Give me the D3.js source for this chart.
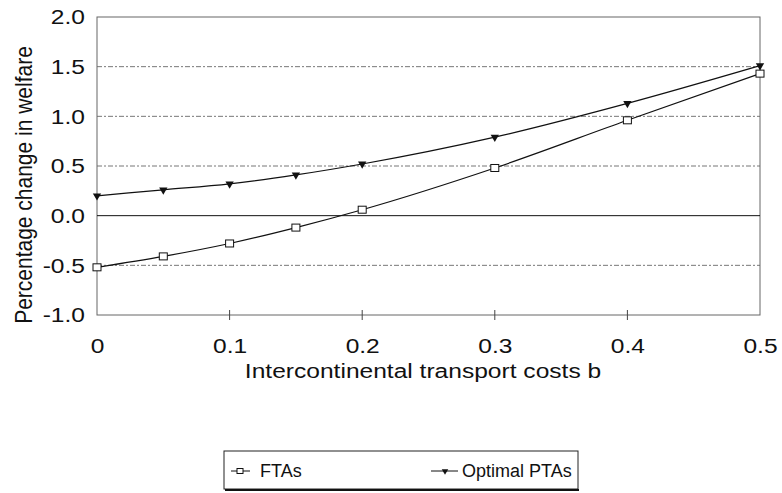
<!DOCTYPE html>
<html>
<head>
<meta charset="utf-8">
<script src="https://cdn.jsdelivr.net/npm/d3@7"></script>
<style>
  body { margin: 0; background: #fff; }
  text { font-family: "Liberation Sans", Arial, sans-serif; fill: #111; }
</style>
</head>
<body>
<script>
// Chart data
const costs = [0, 0.05, 0.1, 0.15, 0.2, 0.3, 0.4, 0.5];
const ftas = [-0.52, -0.41, -0.28, -0.12, 0.06, 0.48, 0.96, 1.43];
const optimalPtas = [0.20, 0.26, 0.32, 0.41, 0.52, 0.79, 1.13, 1.51];
const xTicks = [0, 0.1, 0.2, 0.3, 0.4, 0.5];
const yTicks = [-1.0, -0.5, 0.0, 0.5, 1.0, 1.5, 2.0];

const WIDTH = 782;
const HEIGHT = 493;
const PLOT = { left: 97, right: 760, top: 17, bottom: 315 };
const STRETCH = 1.17; // the scan is a bit wider than tall

const svg = d3.select("body").append("svg")
  .attr("width", WIDTH)
  .attr("height", HEIGHT);

const x = d3.scaleLinear().domain([0, 0.5]).range([PLOT.left, PLOT.right]);
const y = d3.scaleLinear().domain([-1, 2]).range([PLOT.bottom, PLOT.top]);

// Dashed gridlines
svg.append("g")
  .selectAll("line")
  .data(yTicks.filter(d => d !== 0 && d !== 2 && d !== -1))
  .enter().append("line")
  .attr("x1", PLOT.left).attr("x2", PLOT.right)
  .attr("y1", d => y(d)).attr("y2", d => y(d))
  .attr("stroke", "#777")
  .attr("stroke-width", 1)
  .attr("stroke-dasharray", "5,2,2,2");

// Plot frame
svg.append("rect")
  .attr("x", PLOT.left).attr("y", PLOT.top)
  .attr("width", PLOT.right - PLOT.left)
  .attr("height", PLOT.bottom - PLOT.top)
  .attr("fill", "none")
  .attr("stroke", "#666")
  .attr("stroke-width", 1);

// Zero line
svg.append("line")
  .attr("x1", PLOT.left).attr("x2", PLOT.right)
  .attr("y1", y(0)).attr("y2", y(0))
  .attr("stroke", "#111")
  .attr("stroke-width", 1);

// Y axis labels (plain hyphen for negatives, as in the scan)
const yAxis = d3.axisLeft(y)
  .tickValues(yTicks)
  .tickFormat(d => d.toFixed(1))
  .tickSize(0)
  .tickPadding(0);
svg.append("g")
  .attr("transform", `translate(${PLOT.left - 12},0)`)
  .call(yAxis)
  .call(g => g.select(".domain").remove())
  .call(g => g.selectAll("text")
    .attr("x", 0)
    .attr("transform", `scale(${STRETCH},1)`)
    .style("font-size", "21px")
    .style("font-family", "Liberation Sans, Arial, sans-serif")
    .attr("fill", "#111"));

// X axis with small ticks crossing the bottom line
const xAxis = d3.axisBottom(x)
  .tickValues(xTicks)
  .tickFormat(d => d === 0 ? "0" : d.toFixed(1))
  .tickSize(0)
  .tickPadding(23);
svg.append("g")
  .attr("transform", `translate(0,${PLOT.bottom})`)
  .call(xAxis)
  .call(g => g.select(".domain").remove())
  .call(g => g.selectAll("text")
    .attr("transform", `scale(${STRETCH},1)`)
    .style("font-size", "21px")
    .style("font-family", "Liberation Sans, Arial, sans-serif")
    .attr("fill", "#111"));

svg.append("g")
  .selectAll("line")
  .data(xTicks.slice(1, -1))
  .enter().append("line")
  .attr("x1", d => x(d)).attr("x2", d => x(d))
  .attr("y1", PLOT.bottom - 5).attr("y2", PLOT.bottom + 5)
  .attr("stroke", "#444");

// Axis titles
svg.append("text")
  .attr("transform", `translate(423,378) scale(${STRETCH},1)`)
  .attr("text-anchor", "middle")
  .attr("font-size", 21)
  .text("Intercontinental transport costs b");

svg.append("text")
  .attr("transform", `translate(32,185) rotate(-90) scale(1,${STRETCH})`)
  .attr("text-anchor", "middle")
  .attr("font-size", 21)
  .text("Percentage change in welfare");

// Series lines
const line = d3.line()
  .x(d => x(d[0]))
  .y(d => y(d[1]))
  .curve(d3.curveMonotoneX);

const ftaPoints = costs.map((c, i) => [c, ftas[i]]);
const ptaPoints = costs.map((c, i) => [c, optimalPtas[i]]);

svg.append("path")
  .datum(ftaPoints)
  .attr("d", line)
  .attr("fill", "none")
  .attr("stroke", "#111")
  .attr("stroke-width", 1.2);

svg.append("path")
  .datum(ptaPoints)
  .attr("d", line)
  .attr("fill", "none")
  .attr("stroke", "#111")
  .attr("stroke-width", 1.2);

const triangle = d3.symbol().type(d3.symbolTriangle).size(30);

// Markers
svg.append("g")
  .selectAll("rect")
  .data(ftaPoints)
  .enter().append("rect")
  .attr("x", d => x(d[0]) - 4)
  .attr("y", d => y(d[1]) - 3.5)
  .attr("width", 8).attr("height", 7)
  .attr("fill", "#fff")
  .attr("stroke", "#111")
  .attr("stroke-width", 1);

svg.append("g")
  .selectAll("path")
  .data(ptaPoints)
  .enter().append("path")
  .attr("d", triangle)
  .attr("transform", d => `translate(${x(d[0])},${y(d[1])}) rotate(180)`)
  .attr("fill", "#111");

// Legend
const legend = svg.append("g");
legend.append("rect")
  .attr("x", 224).attr("y", 451)
  .attr("width", 354).attr("height", 38)
  .attr("fill", "#fff")
  .attr("stroke", "#222")
  .attr("stroke-width", 1);
legend.append("line")
  .attr("x1", 225).attr("x2", 579)
  .attr("y1", 490).attr("y2", 490)
  .attr("stroke", "#111").attr("stroke-width", 2);

legend.append("line")
  .attr("x1", 231).attr("x2", 250)
  .attr("y1", 471).attr("y2", 471)
  .attr("stroke", "#111");
legend.append("rect")
  .attr("x", 237).attr("y", 468.5)
  .attr("width", 6).attr("height", 5)
  .attr("fill", "#fff").attr("stroke", "#111");
legend.append("text")
  .attr("x", 260).attr("y", 477)
  .attr("font-size", 18)
  .text("FTAs");

legend.append("line")
  .attr("x1", 431).attr("x2", 458)
  .attr("y1", 471).attr("y2", 471)
  .attr("stroke", "#111");
legend.append("path")
  .attr("d", d3.symbol().type(d3.symbolTriangle).size(18))
  .attr("transform", "translate(445,471) rotate(180)")
  .attr("fill", "#111");
legend.append("text")
  .attr("x", 462).attr("y", 477)
  .attr("font-size", 18)
  .text("Optimal PTAs");
</script>
</body>
</html>
